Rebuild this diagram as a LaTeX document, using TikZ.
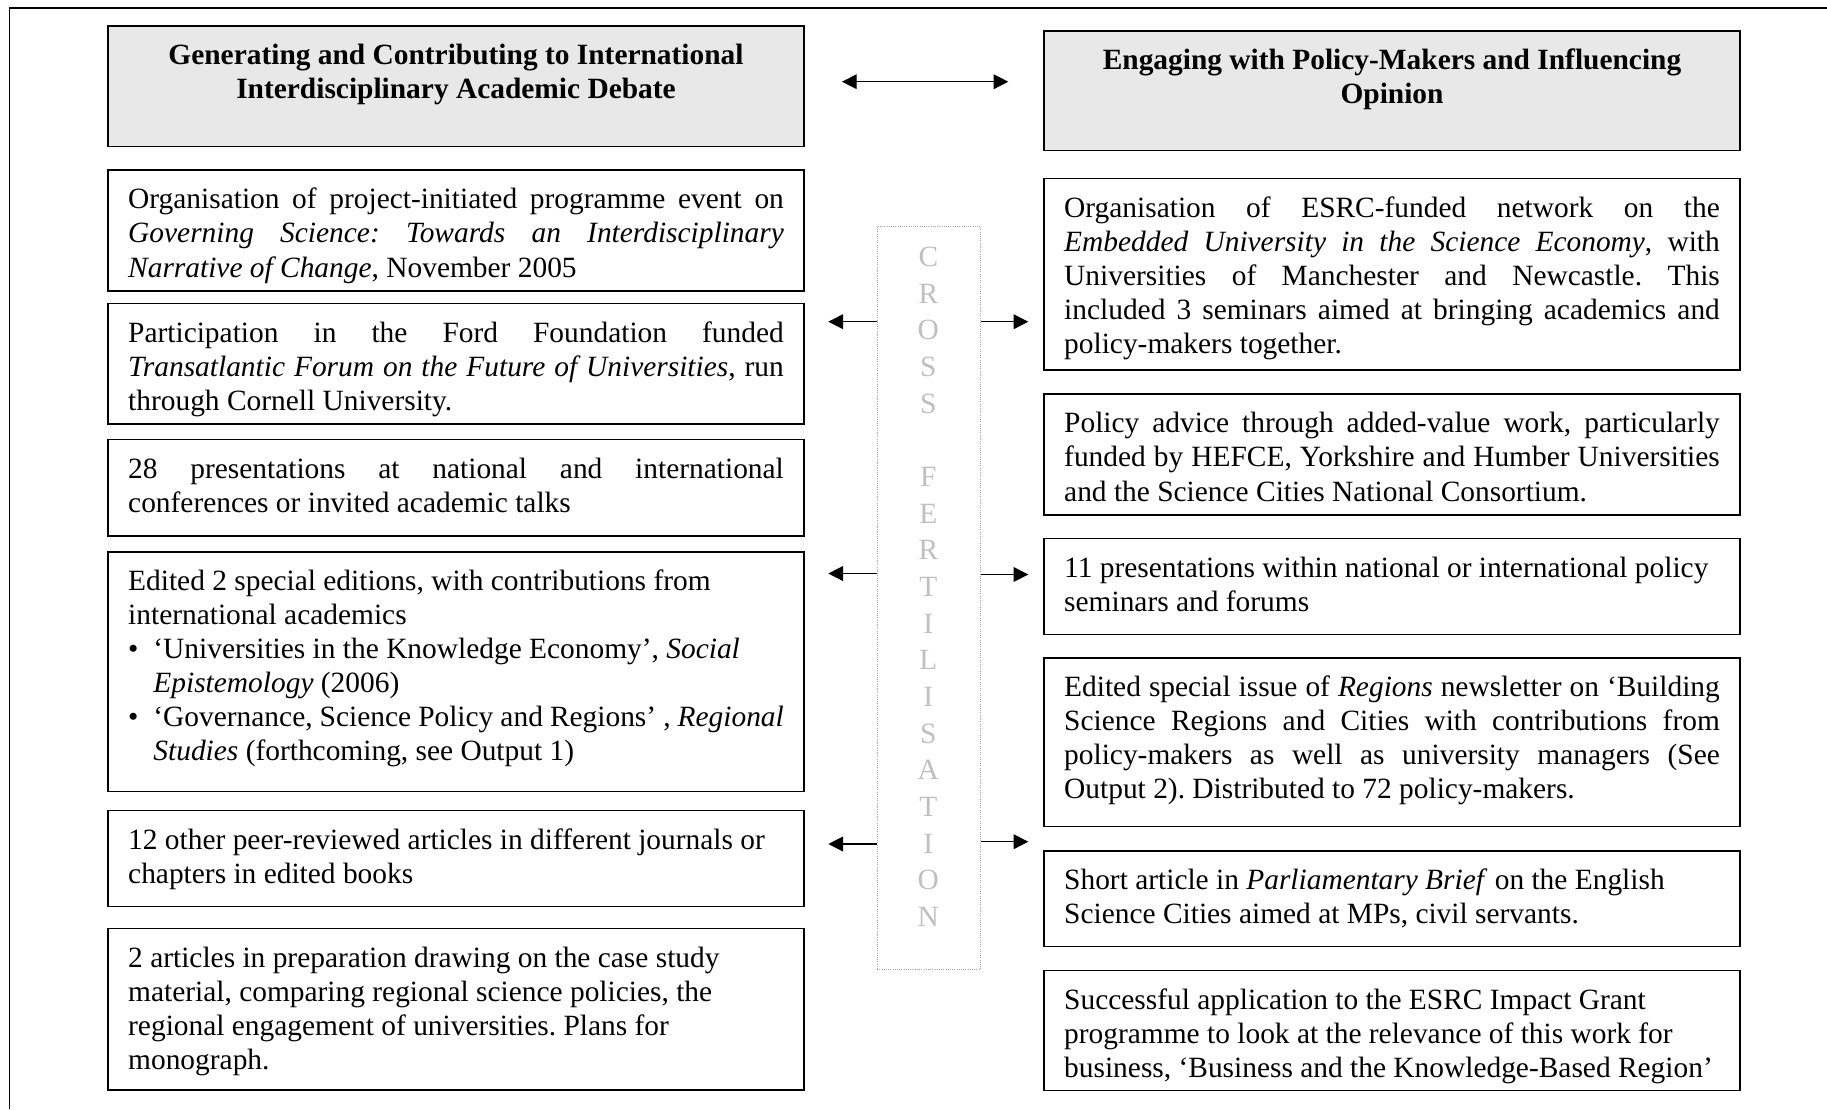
\documentclass[tikz,border=0pt]{standalone}
\usepackage{fontspec}
\setmainfont{Liberation Serif}
\usetikzlibrary{arrows.meta}
\hyphenpenalty=10000
\exhyphenpenalty=10000
\frenchspacing
\newcommand{\jtext}[2]{\parbox[t][#1][t]{267.5pt}{\tolerance=10000\hbadness=10000\rule{0pt}{11pt}#2}}
\newcommand{\rtext}[2]{\parbox[t][#1][t]{267.5pt}{\raggedright\rule{0pt}{11pt}#2}}
\newcommand{\htext}[2]{\parbox[t][#1][t]{267.5pt}{\centering\bfseries\rule{0pt}{11pt}#2}}
\begin{document}
\begin{tikzpicture}[x=0.408pt,y=-0.408pt,
  every node/.style={font=\fontsize{12}{13.9}\selectfont},
  itembox/.style={draw,line width=0.7pt,anchor=north west,inner xsep=8.3pt,inner ysep=4.8pt},
  headbox/.style={itembox,fill=gray!18},
  crossbox/.style={draw=gray!70,line width=0.4pt,dash pattern=on 0.4pt off 0.5pt,anchor=north west,inner sep=0pt,minimum width=42.1pt,minimum height=303.4pt},
  crosstext/.style={text=gray!50,align=center,font=\fontsize{12}{14.96}\selectfont},
  link/.style={-{Triangle[length=6pt,width=6pt]},line width=0.55pt},
  dlink/.style={{Triangle[length=6pt,width=6pt]}-{Triangle[length=6pt,width=6pt]},line width=0.55pt}]
\useasboundingbox (0,0) rectangle (1827,1109);
\draw[line width=0.5pt] (9.4,1109) -- (9.4,8.1) -- (1827,8.1);
\node[headbox] (hl) at (107,25.3) {\htext{39.5pt}{Generating and Contributing to International\\Interdisciplinary Academic Debate}};
\node[headbox] (hr) at (1043,30) {\htext{39.2pt}{Engaging with Policy-Makers and Influencing\\Opinion}};
\node[itembox] (l1) at (107,169.3) {\jtext{39.6pt}{Organisation of project-initiated programme event on\linebreak \textit{Governing Science: Towards an Interdisciplinary}\linebreak \textit{Narrative of Change}, November 2005}};
\node[itembox] (l2) at (107,302.7) {\jtext{39.6pt}{Participation in the Ford Foundation funded\linebreak \textit{Transatlantic Forum on the Future of Universities}, run\linebreak through Cornell University.}};
\node[itembox] (l3) at (107,438.6) {\jtext{29.7pt}{28 presentations at national and international\linebreak conferences or invited academic talks}};
\node[itembox] (l4) at (107,551) {\rtext{88.2pt}{Edited 2 special editions, with contributions from\\international academics\\\makebox[10.3pt][l]{\textbullet}‘Universities in the Knowledge Economy’, \textit{Social}\\\hspace*{10.3pt}\textit{Epistemology} (2006)\\\makebox[10.3pt][l]{\textbullet}‘Governance, Science Policy and Regions’ , \textit{Regional}\\\hspace*{10.3pt}\textit{Studies} (forthcoming, see Output 1)}};
\node[itembox] (l5) at (107,809.5) {\rtext{29.6pt}{12 other peer-reviewed articles in different journals or\\chapters in edited books}};
\node[itembox] (l6) at (107,927.5) {\rtext{56.4pt}{2 articles in preparation drawing on the case study\\material, comparing regional science policies, the\\regional engagement of universities. Plans for\\monograph.}};
\node[itembox] (r1) at (1043,177.7) {\jtext{68.6pt}{Organisation of ESRC-funded network on the\linebreak \textit{Embedded University in the Science Economy}, with\linebreak Universities of Manchester and Newcastle. This\linebreak included 3 seminars aimed at bringing academics and\linebreak policy-makers together.}};
\node[itembox] (r2) at (1043,393.3) {\jtext{39.6pt}{Policy advice through added-value work, particularly\linebreak funded by HEFCE, Yorkshire and Humber Universities\linebreak and the Science Cities National Consortium.}};
\node[itembox] (r3) at (1043,537.5) {\rtext{29.6pt}{11 presentations within national or international policy\\seminars and forums}};
\node[itembox] (r4) at (1043,657) {\jtext{59.2pt}{Edited special issue of \textit{Regions} newsletter on ‘Building\linebreak Science Regions and Cities with contributions from\linebreak policy-makers as well as university managers (See\linebreak Output 2). Distributed to 72 policy-makers.}};
\node[itembox] (r5) at (1043,850) {\rtext{29.4pt}{Short article in \textit{Parliamentary Brief} on the English\\Science Cities aimed at MPs, civil servants.}};
\node[itembox] (r6) at (1043,969.5) {\rtext{39.4pt}{Successful application to the ESRC Impact Grant\\programme to look at the relevance of this work for\\business, ‘Business and the Knowledge-Based Region’}};
\node[crossbox] (cf) at (876.7,225.7) {};
\node[crosstext] (cft) at (928.3,586.7) {C\\R\\O\\S\\S\\[14.96pt]F\\E\\R\\T\\I\\L\\I\\S\\A\\T\\I\\O\\N};
\coordinate (dl) at (842,81.7);
\coordinate (dr) at (1008.3,81.7);
\coordinate (la1) at (828.3,321.7);
\coordinate (la2) at (828.3,573.5);
\coordinate (la3) at (828.3,844);
\coordinate (ra1) at (1028.3,321.7);
\coordinate (ra2) at (1028.3,574.5);
\coordinate (ra3) at (1028.3,841.7);
\draw[dlink] (dl) -- (dr);
\draw[link] (cf.west |- la1) -- (la1);
\draw[link] (cf.west |- la2) -- (la2);
\draw[link] (cf.west |- la3) -- (la3);
\draw[link] (cf.east |- ra1) -- (ra1);
\draw[link] (cf.east |- ra2) -- (ra2);
\draw[link] (cf.east |- ra3) -- (ra3);
\end{tikzpicture}
\end{document}
